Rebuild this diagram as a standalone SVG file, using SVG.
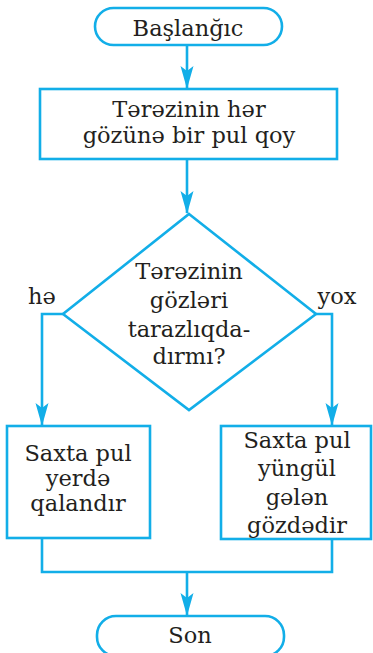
<svg xmlns="http://www.w3.org/2000/svg" width="373" height="653" viewBox="0 0 373 653">
<style>
.s{fill:#fff;stroke:#12aee8;stroke-width:2.6}
.c{fill:none;stroke:#12aee8;stroke-width:2.6}
text{font-family:"DejaVu Serif","Liberation Serif",serif;font-size:22.5px;fill:#231f20;text-anchor:middle}
</style>
<defs>
<marker id="ah" markerUnits="userSpaceOnUse" markerWidth="23" markerHeight="14" viewBox="0 0 23 14" refX="22" refY="7" orient="auto">
<path d="M0,0.5 L23,7 L0,13.5 L5,7 Z" fill="#12aee8"/>
</marker>
</defs>
<g id="connectors">
<line class="c" x1="187" y1="45" x2="187" y2="88" marker-end="url(#ah)"/>
<line class="c" x1="187" y1="159" x2="187" y2="213" marker-end="url(#ah)"/>
<polyline class="c" points="63,314 42,314 42,425" marker-end="url(#ah)"/>
<polyline class="c" points="316,314 332,314 332,425" marker-end="url(#ah)"/>
<polyline class="c" points="42,538 42,572 332,572 332,539"/>
<line class="c" x1="187" y1="572" x2="187" y2="615" marker-end="url(#ah)"/>
</g>
<g id="start">
<rect class="s" x="95" y="8" width="187" height="37" rx="18.5"/>
<text x="188" y="36">Başlanğıc</text>
</g>
<g id="step1">
<rect class="s" x="40" y="89" width="297" height="70"/>
<text x="189" y="117">Tərəzinin hər</text>
<text x="189" y="143">gözünə bir pul qoy</text>
</g>
<g id="decision">
<polygon class="s" points="189,214 316,314 189,410 63,314"/>
<text x="189" y="279">Tərəzinin</text>
<text x="189" y="308">gözləri</text>
<text x="189" y="337">tarazlıqda-</text>
<text x="189" y="364">dırmı?</text>
</g>
<g id="labels">
<text x="42" y="304">hə</text>
<text x="337" y="304">yox</text>
</g>
<g id="left">
<rect class="s" x="7" y="426" width="143" height="112"/>
<text x="78" y="461">Saxta pul</text>
<text x="78" y="486">yerdə</text>
<text x="78" y="511">qalandır</text>
</g>
<g id="right">
<rect class="s" x="221" y="426" width="150" height="113"/>
<text x="297" y="448">Saxta pul</text>
<text x="297" y="476">yüngül</text>
<text x="297" y="505">gələn</text>
<text x="297" y="533">gözdədir</text>
</g>
<g id="end">
<rect class="s" x="97" y="616" width="187" height="40" rx="19"/>
<text x="190" y="643">Son</text>
</g>
</svg>
